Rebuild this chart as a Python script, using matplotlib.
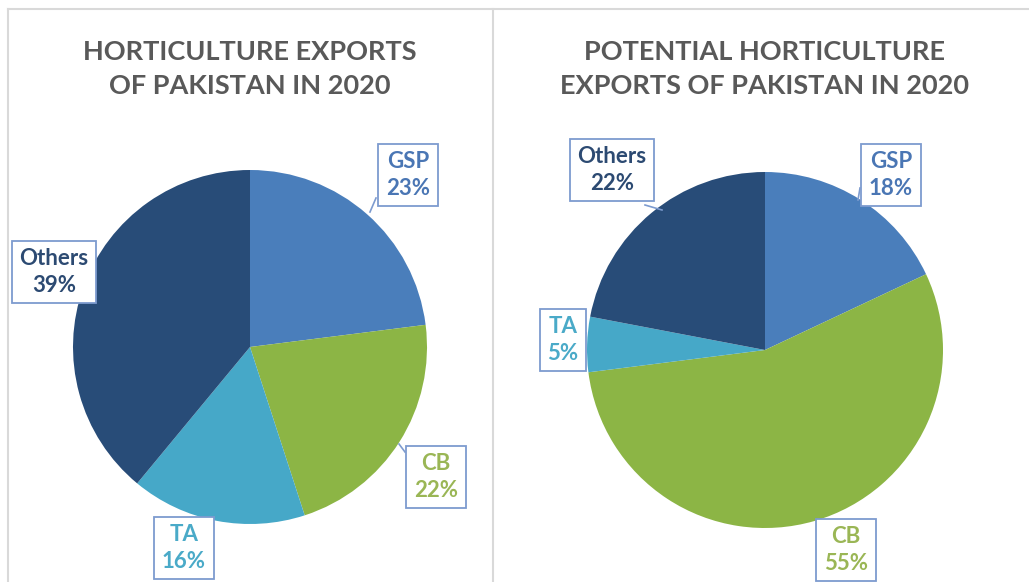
import matplotlib.pyplot as plt

plt.rcParams['font.family'] = ['Lato', 'DejaVu Sans']

# data
categories = ["GSP", "CB", "TA", "Others"]
exports_2020 = [23, 22, 16, 39]
potential_2020 = [18, 55, 5, 22]
titles = ["HORTICULTURE EXPORTS\nOF PAKISTAN IN 2020",
          "POTENTIAL HORTICULTURE\nEXPORTS OF PAKISTAN IN 2020"]

slice_colors = ["#4a7ebb", "#8cb545", "#46a8c8", "#284c78"]
text_colors = ["#4a76b4", "#9ab655", "#4aaac8", "#2c4a72"]
box_edge = "#7d9bcf"
grid_grey = "#d9d9d9"

W, H = 1029, 582
fig = plt.figure(figsize=(W / 100, H / 100), dpi=100)
ax = fig.add_axes([0, 0, 1, 1])


def px(x, y):
    # pixel coords (origin top-left) -> axes data coords
    return x, H - y


# layout of the two panels (pixel positions)
panels = [
    dict(values=exports_2020, title=titles[0], cx=250, cy=347, r=177,
         boxes={"GSP": (408, 175), "CB": (436, 477), "TA": (184, 548), "Others": (54, 272)},
         leaders={"GSP": ((376, 198), (370, 212)), "CB": ((405, 452), (399, 444))}),
    dict(values=potential_2020, title=titles[1], cx=765, cy=350, r=178,
         boxes={"GSP": (891, 175), "CB": (846, 550), "TA": (563, 340), "Others": (612, 170)},
         leaders={"GSP": ((860, 188), (858, 200)), "TA": ((580, 345), (586, 333)),
                  "Others": ((645, 205), (662, 210))}),
]

for p in panels:
    ax.pie(p["values"], colors=slice_colors, startangle=90, counterclock=False,
           center=px(p["cx"], p["cy"]), radius=p["r"],
           wedgeprops=dict(linewidth=0), frame=True)
    ax.text(*px(p["cx"], 69), p["title"], ha="center", va="center",
            fontsize=19.5, fontweight="bold", color="#595959", linespacing=1.5)
    for i, cat in enumerate(categories):
        bx, by = p["boxes"][cat]
        ax.text(*px(bx, by), f"{cat}\n{p['values'][i]}%", ha="center", va="center",
                fontsize=16, fontweight="bold", color=text_colors[i], linespacing=1.3,
                bbox=dict(boxstyle="square,pad=0.35", fc="white", ec=box_edge, lw=1.3),
                zorder=5)
        if cat in p["leaders"]:
            (x0, y0), (x1, y1) = p["leaders"][cat]
            ax.plot([x0, x1], [H - y0, H - y1], color=box_edge, lw=1.2, zorder=4)

# panel frame lines
ax.plot([8, W], [H - 9, H - 9], color=grid_grey, lw=1.5)
ax.plot([8, 8], [H - 9, 0], color=grid_grey, lw=1.5)
ax.plot([493, 493], [H - 9, 0], color=grid_grey, lw=1.5)

ax.set_xlim(0, W)
ax.set_ylim(0, H)
ax.set_aspect("equal")
ax.set_axis_off()

fig.savefig("out.png", dpi=100)
